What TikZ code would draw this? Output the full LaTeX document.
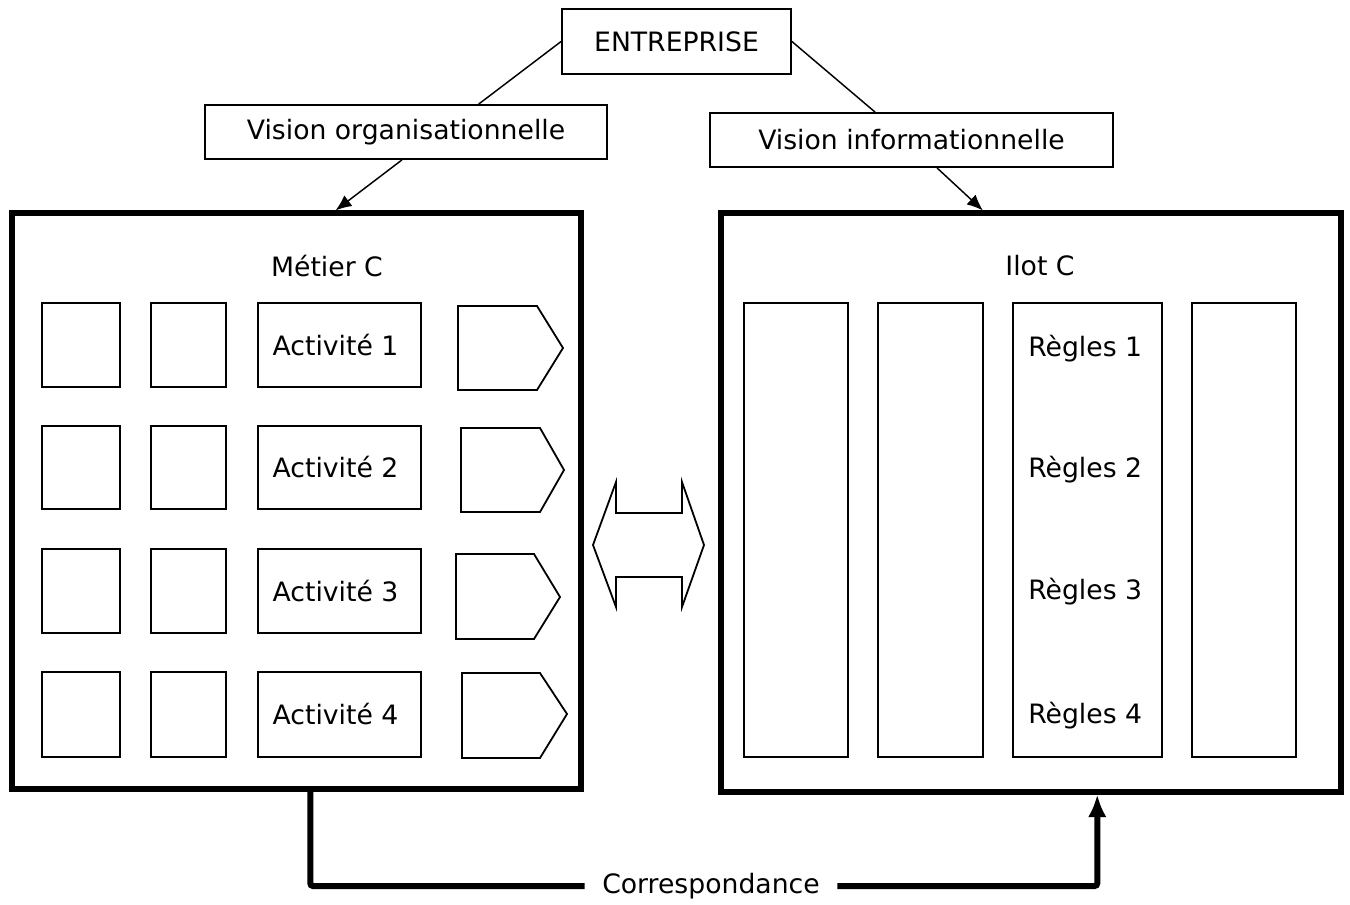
\documentclass[tikz,border=0pt]{standalone}
\usepackage{fontspec}
\setmainfont{DejaVu Sans}
\usetikzlibrary{arrows.meta,calc,fit}
\begin{document}
\begin{tikzpicture}[x=0.75pt,y=-0.75pt,
  font=\fontsize{20}{23}\selectfont,
  box/.style={draw, line width=1.35pt, inner sep=0pt},
  bigbox/.style={draw, line width=3.8pt, inner sep=0pt},
  shapeline/.style={draw, line width=1.35pt, line join=miter},
  link/.style={line width=1.1pt},
  arr/.style={line width=1.1pt, -{Latex[length=12pt,width=10pt]}},
  corrline/.style={line width=4.5pt, rounded corners=2pt},
]
\useasboundingbox (0,0) rectangle (1350,905);

% top boxes
\node[box, fit={(562,9) (791,74)}] (ent) {};
\node at (ent.center) (enttxt) {ENTREPRISE};
\node[box, fit={(205,105) (607,159)}] (vorg) {};
\node at (vorg.center) (vorgtxt) {Vision organisationnelle};
\node[box, fit={(710,113) (1113,167)}] (vinf) {};
\node at (vinf.center) (vinftxt) {Vision informationnelle};

% big boxes
\node[bigbox, fit={(12,213) (581,789)}] (lb) {};
\node[bigbox, fit={(721,213) (1341,792)}] (rb) {};
\node at (327,266) (metier) {Métier C};
\node at (1040,266) (ilot) {Ilot C};

% left grid
\foreach \i/\ya/\yb in {1/303/387, 2/426/509, 3/549/633, 4/672/757}{
  \node[box, fit={(42,\ya) (120,\yb)}] (sa\i) {};
  \node[box, fit={(151,\ya) (226,\yb)}] (sb\i) {};
  \node[box, fit={(258,\ya) (421,\yb)}] (act\i) {};
  \node at ($(act\i.center)+(-4,0)$) (acttxt\i) {Activité \i};
}

% pentagons
\draw[shapeline] (458,306) -- (537,306) -- (563,348) -- (537,390) -- (458,390) -- cycle;
\draw[shapeline] (461,428) -- (540,428) -- (564,470) -- (540,512) -- (461,512) -- cycle;
\draw[shapeline] (456,554) -- (534,554) -- (560,597) -- (534,639) -- (456,639) -- cycle;
\draw[shapeline] (462,673) -- (540,673) -- (567,714) -- (540,758) -- (462,758) -- cycle;

% right columns
\node[box, fit={(744,303) (848,757)}] (c1) {};
\node[box, fit={(878,303) (983,757)}] (c2) {};
\node[box, fit={(1013,303) (1162,757)}] (c3) {};
\node[box, fit={(1192,303) (1296,757)}] (c4) {};
\foreach \i/\y in {1/349, 2/470, 3/592, 4/716}{
  \node[anchor=west, inner sep=0pt] at (1028,\y) (reg\i) {Règles \i};
}

% double arrow
\draw[shapeline] (593,545) -- (616,482) -- (616,513) -- (682,513) -- (682,482)
  -- (704,545) -- (682,607) -- (682,577) -- (616,577) -- (616,607) -- cycle;

% connectors
\draw[link] (ent.west) -- ($(vorg.north west)!0.68!(vorg.north east)$);
\draw[link] (ent.east) -- ($(vinf.north west)!0.41!(vinf.north east)$);
\draw[arr] ($(vorg.south west)!0.49!(vorg.south east)$) -- ($(lb.north west)!0.568!(lb.north east)$);
\draw[arr] ($(vinf.south west)!0.563!(vinf.south east)$) -- ($(rb.north west)!0.423!(rb.north east)$);

% correspondance
\node[minimum width=189pt, inner sep=0pt] at (711,886) (corr) {Correspondance};
\draw[corrline] ($(lb.south west)!0.524!(lb.south east)$) |- (corr.west);
\draw[corrline, -{Latex[length=17pt,width=14pt]}] (corr.east) -| ($(rb.south west)!0.606!(rb.south east)$);
\end{tikzpicture}
\end{document}
